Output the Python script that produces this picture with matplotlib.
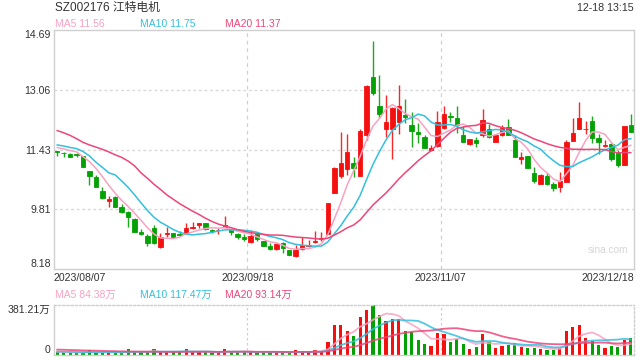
import numpy as np
import pandas as pd
import matplotlib
matplotlib.use("Agg")
import matplotlib.pyplot as plt

plt.rcParams['font.family'] = ['Liberation Sans', 'Noto Sans CJK SC', 'DejaVu Sans']

# daily candles, 2023/08/07 .. 2023/12/18
opens = [11.39, 11.35, 11.31, 11.30, 11.26, 10.85, 10.68, 10.30, 10.04, 10.15,
         9.88, 9.74, 9.54, 9.20, 9.08, 9.29, 8.79, 9.12, 9.15, 9.13,
         9.15, 9.30, 9.38, 9.42, 9.23, 9.23, 9.33, 9.26, 9.12, 9.04,
         8.92, 9.17, 8.93, 8.81, 8.72, 8.88, 8.70, 8.53, 8.72, 8.81,
         8.91, 8.99, 9.13, 10.26, 10.71, 10.91, 11.06, 10.72, 11.83, 13.40,
         12.62, 12.00, 12.00, 12.19, 12.37, 12.10, 11.90, 11.78, 11.42, 11.53,
         12.01, 12.36, 12.28, 11.83, 11.58, 11.69, 11.82, 11.98, 11.65, 11.83,
         12.04, 11.69, 11.17, 11.26, 10.79, 10.50, 10.70, 10.50, 10.40, 10.56,
         11.68, 12.00, 11.98, 12.22, 11.76, 11.54, 11.58, 11.38, 11.02, 12.10]
closes = [11.37, 11.33, 11.24, 11.29, 10.97, 10.70, 10.42, 10.12, 10.09, 9.88,
          9.74, 9.59, 9.20, 9.12, 8.88, 8.88, 9.06, 9.15, 9.06, 9.10,
          9.31, 9.32, 9.42, 9.26, 9.21, 9.25, 9.38, 9.18, 9.04, 8.99,
          9.08, 8.99, 8.82, 8.73, 8.85, 8.74, 8.56, 8.70, 8.83, 8.84,
          8.95, 9.02, 9.97, 10.94, 11.06, 11.37, 10.92, 11.94, 13.16, 12.98,
          12.40, 12.18, 12.57, 12.62, 12.31, 11.95, 11.87, 11.48, 11.47, 12.18,
          12.40, 12.31, 12.10, 11.65, 11.72, 11.62, 12.24, 11.77, 11.83, 12.03,
          11.83, 11.24, 11.23, 10.94, 10.59, 10.74, 10.50, 10.38, 10.58, 11.65,
          11.89, 12.28, 12.00, 11.74, 11.65, 11.56, 11.17, 11.01, 12.08, 11.92]
highs = [11.39, 11.38, 11.35, 11.35, 11.27, 10.85, 10.74, 10.42, 10.18, 10.16,
         9.95, 9.75, 9.56, 9.26, 9.13, 9.38, 9.15, 9.33, 9.16, 9.21,
         9.44, 9.45, 9.44, 9.43, 9.26, 9.29, 9.62, 9.27, 9.17, 9.13,
         9.24, 9.20, 8.95, 8.88, 8.86, 8.92, 8.71, 8.83, 9.04, 8.97,
         9.21, 9.20, 9.98, 10.97, 11.92, 11.85, 11.24, 11.98, 13.19, 14.40,
         13.46, 12.92, 12.58, 13.19, 12.80, 12.47, 12.15, 11.83, 11.56, 12.48,
         12.63, 12.47, 12.63, 12.07, 11.73, 11.77, 12.53, 12.12, 11.86, 12.10,
         12.26, 11.83, 11.38, 11.27, 10.97, 10.76, 10.80, 10.56, 10.83, 11.69,
         12.28, 12.74, 12.22, 12.35, 11.87, 11.69, 11.60, 11.42, 12.08, 12.39]
lows = [11.26, 11.24, 11.22, 11.24, 10.96, 10.47, 10.40, 10.09, 9.88, 9.87,
        9.71, 9.33, 9.19, 9.11, 8.82, 8.85, 8.74, 9.06, 9.05, 9.08,
        9.13, 9.27, 9.31, 9.25, 9.15, 9.13, 9.33, 9.11, 8.99, 8.95,
        8.88, 8.95, 8.80, 8.70, 8.71, 8.62, 8.55, 8.50, 8.70, 8.77,
        8.88, 8.95, 9.12, 10.24, 10.65, 10.74, 10.69, 10.72, 11.69, 12.92,
        12.28, 11.77, 11.17, 11.86, 12.17, 11.51, 11.60, 11.47, 11.40, 11.51,
        11.99, 12.19, 11.88, 11.63, 11.57, 11.51, 11.78, 11.76, 11.65, 11.80,
        11.83, 11.22, 11.03, 10.93, 10.53, 10.49, 10.47, 10.30, 10.29, 10.56,
        11.67, 11.99, 11.85, 11.60, 11.31, 11.49, 11.13, 10.95, 11.02, 11.92]
# volume in 万
volumes = [20, 20, 18, 18, 18, 36, 18, 18, 20, 18,
           22, 43, 20, 22, 22, 43, 22, 22, 22, 22,
           43, 22, 22, 22, 12, 22, 43, 22, 22, 22,
           22, 20, 22, 20, 20, 20, 20, 36, 22, 20,
           36, 33, 102, 229, 229, 183, 145, 290, 343, 381.21,
           305, 259, 274, 274, 183, 175, 114, 84, 69, 168,
           160, 99, 122, 84, 46, 61, 160, 99, 53, 69,
           76, 91, 61, 53, 53, 46, 41, 41, 53, 183,
           213, 229, 130, 107, 76, 53, 69, 61, 114, 130]

# moving averages before the window fills
ma5_head = [11.49, 11.45, 11.41, 11.37]
ma10_head = [11.56, 11.53, 11.49, 11.46, 11.38, 11.26, 11.09, 10.95, 10.80]
ma20_head = [11.95, 11.89, 11.82, 11.73, 11.63, 11.56, 11.50, 11.44, 11.37, 11.29,
             11.22, 11.12, 10.99, 10.80, 10.65, 10.49, 10.35, 10.20, 10.08]
vma5_head = [24, 22, 21, 20]
vma10_head = [26, 25, 24, 23, 22, 22, 21, 21, 21]
vma20_head = [41, 40, 38, 37, 35, 34, 33, 31, 30, 29,
              28, 27, 26, 26, 25, 25, 24, 24, 23]

price_ticks = [8.18, 9.81, 11.43, 13.06, 14.69]
date_labels = ['2023/08/07', '2023/09/18', '2023/11/07', '2023/12/18']
date_pos = [-0.5, 29.5, 59.5, 89.5]
vol_max = 381.21

c_up = '#f51010'
c_down = '#03a103'
c_ma5 = '#f9a2c2'
c_ma10 = '#33c0df'
c_ma20 = '#ee4679'
c_text = '#333333'
c_frame = '#cfcfcf'


def moving_avg(values, n, head):
    ma = pd.Series(values, dtype=float).rolling(n).mean().to_numpy()
    ma[:len(head)] = head
    return ma


df = pd.DataFrame({'open': opens, 'close': closes, 'high': highs,
                   'low': lows, 'vol': volumes})
x = np.arange(len(df))
colors = np.where(df['close'] >= df['open'], c_up, c_down)

fig = plt.figure(figsize=(6.4, 3.6), dpi=100)
ax = fig.add_axes([54/640, 1-269/360, 580/640, 239/360])
axv = fig.add_axes([54/640, 1-355/360, 580/640, 50/360])

# candles
ax.vlines(x, df['low'], df['high'], colors=colors, linewidth=1, alpha=0.9, zorder=2)
body_bottom = np.minimum(df['open'], df['close'])
body_h = (df['close'] - df['open']).abs()
ax.bar(x, body_h, bottom=body_bottom, width=0.68, color=colors,
       edgecolor=colors, linewidth=0.6, zorder=3)

ax.plot(x, moving_avg(closes, 5, ma5_head), color=c_ma5, lw=1.1, zorder=4)
ax.plot(x, moving_avg(closes, 10, ma10_head), color=c_ma10, lw=1.1, zorder=4)
ax.plot(x, moving_avg(closes, 20, ma20_head), color=c_ma20, lw=1.1, zorder=4)

ax.set_xlim(-0.5, len(df) - 0.5)
ax.set_ylim(price_ticks[0], price_ticks[-1])
ax.set_yticks(price_ticks)
ax.set_yticklabels(['%.2f' % v for v in price_ticks])
ylabs = ax.get_yticklabels()
ylabs[0].set_va('bottom')
ylabs[-1].set_va('top')
for v in price_ticks[1:-1]:
    ax.axhline(v, color='#d9d9d9', lw=1, ls=(0, (2, 2)), zorder=1)
for p in date_pos[1:-1]:
    ax.axvline(p, color='#d0d0d0', lw=0.9, ls=(0, (3, 3)), zorder=1)
    axv.axvline(p, color='#d0d0d0', lw=0.9, ls=(0, (2, 2)), zorder=1)

ax.set_xticks(date_pos)
ax.set_xticklabels(date_labels)
for lab, ha in zip(ax.get_xticklabels(), ['left', 'center', 'center', 'right']):
    lab.set_ha(ha)
ax.tick_params(length=0, labelsize=7.6, colors=c_text, pad=3)
ax.tick_params(axis='y', pad=2.5)
for s in ax.spines.values():
    s.set_color(c_frame)
    s.set_linewidth(1)

ax.text(0.955, 0.08, 'sina.com', transform=ax.transAxes, ha='center', va='center',
        color='#d6d6d6', fontsize=7.3)

# volume panel
axv.bar(x, df['vol'], width=0.5, color=colors, zorder=2)
axv.plot(x, moving_avg(volumes, 5, vma5_head), color=c_ma5, lw=1.3, alpha=0.85, zorder=3)
axv.plot(x, moving_avg(volumes, 10, vma10_head), color=c_ma10, lw=1.3, alpha=0.85, zorder=3)
axv.plot(x, moving_avg(volumes, 20, vma20_head), color=c_ma20, lw=1.3, alpha=0.85, zorder=3)
axv.set_xlim(-0.5, len(df) - 0.5)
axv.set_ylim(0, vol_max)
axv.set_xticks([])
axv.set_yticks([0, vol_max])
axv.set_yticklabels(['0', '%.2f万' % vol_max])
vlabs = axv.get_yticklabels()
vlabs[0].set_va('bottom')
vlabs[-1].set_va('top')
axv.tick_params(length=0, labelsize=7.6, colors=c_text, pad=2.5)
for name, s in axv.spines.items():
    s.set_color(c_frame)
    s.set_linewidth(1)
    if name in ('top', 'right'):
        s.set_linestyle((0, (1.5, 1.5)))

# header texts
fig.text(55/640, 1-8/360, 'SZ002176 江特电机', fontsize=8.5, color=c_text, va='center')
fig.text(634/640, 1-8/360, '12-18 13:15', fontsize=7.7, color=c_text, va='center', ha='right')
for xp, txt, c in [(55, 'MA5 11.56', c_ma5), (140, 'MA10 11.75', c_ma10), (225, 'MA20 11.37', c_ma20)]:
    fig.text(xp/640, 1-24/360, txt, fontsize=7.5, color=c, va='center')
for xp, txt, c in [(55, 'MA5 84.38万', c_ma5), (140, 'MA10 117.47万', c_ma10), (225, 'MA20 93.14万', c_ma20)]:
    fig.text(xp/640, 1-295/360, txt, fontsize=7.5, color=c, va='center')

fig.savefig('out.png', dpi=100)
